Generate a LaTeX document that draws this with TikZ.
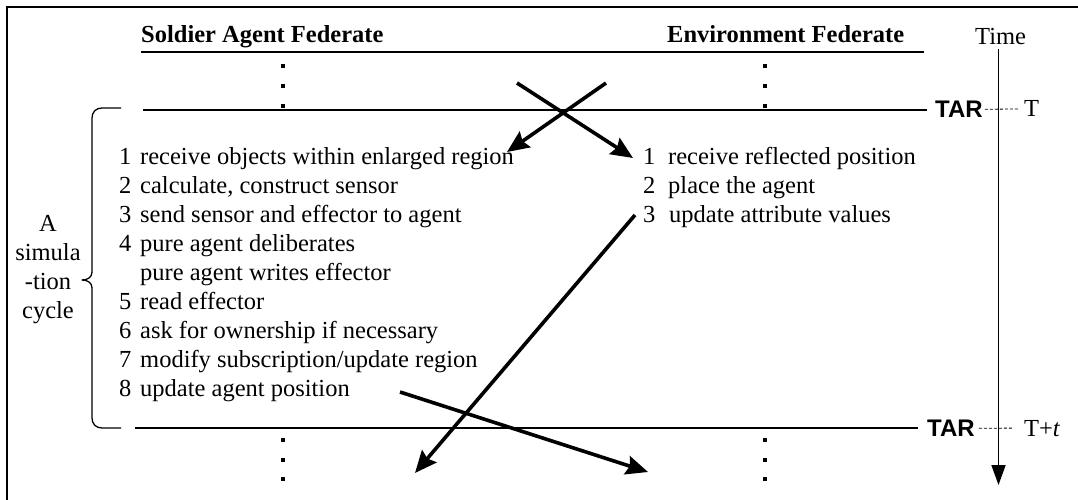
\documentclass[tikz,border=0pt]{standalone}
\usepackage{fontspec}
\setmainfont{Liberation Serif}
\newfontfamily\tarfont{Liberation Sans}
\usetikzlibrary{arrows.meta}

\begin{document}
\begin{tikzpicture}[x=1pt,y=-1pt,
  txt/.style={anchor=base west, inner sep=0pt, font=\fontsize{24.5}{29}\selectfont},
  hdr/.style={anchor=base west, inner sep=0pt, font=\fontsize{24.5}{29}\selectfont\bfseries},
  cyc/.style={anchor=base, inner sep=0pt, font=\fontsize{24.5}{29}\selectfont},
  tar/.style={anchor=base west, inner sep=0pt, font=\fontsize{24}{29}\selectfont\tarfont\bfseries},
  rule/.style={line width=1.3pt},
  tick/.style={line width=0.8pt, dash pattern=on 3pt off 2pt},
  flow/.style={line width=3.6pt, -{Stealth[length=22pt,width=19pt,inset=3pt]}},
  dotmark/.style={rectangle, fill, inner sep=0pt, minimum size=3.4pt},
]
\useasboundingbox (0,0) rectangle (1078,500);

% frame
\draw[rule] (7,500) -- (7,7) -- (1078,7);

% column headings
\node[hdr] (sold) at (141,43) {Soldier Agent Federate};
\node[hdr] (env)  at (667,43) {Environment Federate};
\node[txt] (time) at (975,45) {Time};
\draw[rule] (141,52) -- (924,52);

% continuation dots
\foreach \y [count=\i] in {66,86,106} {
  \node[dotmark] (lt\i) at (283,\y) {};
  \node[dotmark] (rt\i) at (765,\y) {};
}
\foreach \y [count=\i] in {440,460,479} {
  \node[dotmark] (lb\i) at (283,\y) {};
  \node[dotmark] (rb\i) at (765,\y) {};
}

% time advance grants
\draw[rule] (143,110) -- (927,110);
\node[tar] (tar1) at (935,117.5) {TAR};
\node[txt] (t1) at (1024,117) {T};
\draw[tick] ([xshift=2pt]tar1.east) -- ([xshift=-6pt]t1.west);

\draw[rule] (135,428) -- (918,428);
\node[tar] (tar2) at (927,436.5) {TAR};
\node[txt] (t2) at (1024,436) {T+\textit{t}};
\draw[tick] ([xshift=4pt]tar2.east) -- ([xshift=-11pt]t2.west);

% time axis
\coordinate (ttop) at (998.5,49);
\coordinate (tend) at (998.5,485);
\draw[line width=1.8pt, -{Triangle[length=20pt,width=14pt]}] (ttop) -- (tend);

% cycle brace
\draw[rule, line join=round]
  (121,108) -- (102,108) .. controls (96,108) and (92,112) .. (92,118)
  -- (92,272) .. controls (92,277) and (88,280) .. (82,280)
  .. controls (88,280) and (92,283) .. (92,288)
  -- (92,418) .. controls (92,424) and (96,428) .. (102,428) -- (121,428);

\node[cyc] (c1) at (48,231) {A};
\node[cyc] (c2) at (48,260) {simula};
\node[cyc] (c3) at (48,289) {-tion};
\node[cyc] (c4) at (48,318) {cycle};

% soldier agent steps
\node[txt] (s1) at (119,164) {\makebox[21pt][l]{1}receive objects within enlarged region};
\node[txt] (s2) at (119,193) {\makebox[21pt][l]{2}calculate, construct sensor};
\node[txt] (s3) at (119,222) {\makebox[21pt][l]{3}send sensor and effector to agent};
\node[txt] (s4) at (119,251) {\makebox[21pt][l]{4}pure agent deliberates};
\node[txt] (s4b) at (140,280) {pure agent writes effector};
\node[txt] (s5) at (119,309) {\makebox[21pt][l]{5}read effector};
\node[txt] (s6) at (119,338) {\makebox[21pt][l]{6}ask for ownership if necessary};
\node[txt] (s7) at (119,367) {\makebox[21pt][l]{7}modify subscription/update region};
\node[txt] (s8) at (119,396) {\makebox[21pt][l]{8}update agent position};

% environment steps
\node[txt] (e1) at (643,164) {\makebox[25pt][l]{1}receive reflected position};
\node[txt] (e2) at (643,193) {\makebox[25pt][l]{2}place the agent};
\node[txt] (e3) at (643,222) {\makebox[26pt][l]{3}update attribute values};

% message exchanges
\coordinate (m1a) at (606,83);  \coordinate (m1b) at (507,152);
\coordinate (m2a) at (517,83);  \coordinate (m2b) at (633,158);
\coordinate (m3a) at (635,215); \coordinate (m3b) at (415,473);
\coordinate (m4a) at (400,392); \coordinate (m4b) at (648,472);
\draw[flow] (m1a) -- (m1b);
\draw[flow] (m2a) -- (m2b);
\draw[flow] (m3a) -- (m3b);
\draw[flow] (m4a) -- (m4b);
\end{tikzpicture}
\end{document}
